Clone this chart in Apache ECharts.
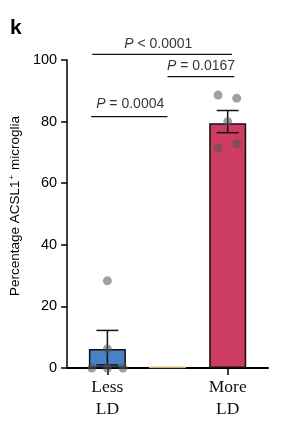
<!DOCTYPE html>
<html>
<head>
<meta charset="utf-8">
<script src="https://cdn.jsdelivr.net/npm/echarts@6/dist/echarts.min.js"></script>
<style>
  html, body { margin: 0; padding: 0; background: #fff; }
  #main { width: 282px; height: 423px; }
</style>
</head>
<body>
<div id="main"></div>
<script>
// groups sit at x = 0, 1, 2 (the middle one is an empty spacer)
var groupNames = ['Less\nLD', '', 'More\nLD'];
var barValues = [6.2, 0.6, 79.5];
var barColors = ['#4a80c4', '#f5b342', '#cd3d62'];
var errLow = [1.0, null, 76.4];
var errHigh = [12.2, null, 83.6];
// individual animals: [x offset, value]
var dotsLess = [[-0.26, 0], [0, 0], [0.26, 0], [0, 6.2], [0, 28.3]];
var dotsMore = [[-0.16, 88.6], [0.15, 87.6], [0, 80.0], [-0.16, 71.4], [0.15, 72.8]];
var yTicks = [0, 20, 40, 60, 80, 100];
// significance brackets: [x from, x to, y]
var brackets = [[-0.25, 2.07, 101.8], [1.0, 2.11, 94.6], [-0.27, 1.0, 81.6]];
var pLabels = [[0.847, 105.2, '<', '0.0001'], [1.556, 98.0, '=', '0.0167'], [0.379, 85.7, '=', '0.0004']];

var chart = echarts.init(document.getElementById('main'));

var barData = barValues.map(function (v, i) {
  return { value: [i, v], itemStyle: { color: barColors[i], borderColor: i === 1 ? '#e8e8e8' : '#111', borderWidth: i === 1 ? 0.5 : 1.5 } };
});

var dots = [];
dotsLess.forEach(function (d) { dots.push([0 + d[0], d[1]]); });
dotsMore.forEach(function (d) { dots.push([2 + d[0], d[1]]); });

var errData = [];
for (var i = 0; i < barValues.length; i++) {
  if (errLow[i] !== null) {
    errData.push([i, errLow[i], errHigh[i]]);
  }
}

var series = [
  {
    type: 'bar',
    data: barData,
    barWidth: 37,
    z: 2
  },
  {
    type: 'custom',
    z: 3,
    renderItem: function (params, api) {
      var x = api.value(0);
      var lo = api.coord([x, api.value(1)]);
      var hi = api.coord([x, api.value(2)]);
      var hw = 11;
      var st = { stroke: '#111', lineWidth: 1.5 };
      return {
        type: 'group',
        children: [
          { type: 'line', shape: { x1: lo[0], y1: lo[1], x2: hi[0], y2: hi[1] }, style: st },
          { type: 'line', shape: { x1: hi[0] - hw, y1: hi[1], x2: hi[0] + hw, y2: hi[1] }, style: st },
          { type: 'line', shape: { x1: lo[0] - hw, y1: lo[1], x2: lo[0] + hw, y2: lo[1] }, style: st }
        ]
      };
    },
    data: errData
  },
  {
    type: 'scatter',
    data: dots,
    symbolSize: 9,
    itemStyle: { color: 'rgba(85,85,85,0.69)' },
    clip: false,
    z: 4
  }
];

brackets.forEach(function (b) {
  series.push({
    type: 'line',
    data: [[b[0], b[2]], [b[1], b[2]]],
    symbol: 'none',
    clip: false,
    silent: true,
    lineStyle: { color: '#111', width: 1.2 },
    z: 5
  });
});

series.push({
  type: 'scatter',
  symbolSize: 0,
  clip: false,
  silent: true,
  data: pLabels.map(function (p) { return { value: [p[0], p[1]], sign: p[2], num: p[3] }; }),
  label: {
    show: true,
    position: 'inside',
    fontFamily: 'Liberation Sans, Arial, sans-serif',
    fontSize: 14,
    color: '#000',
    formatter: function (params) {
      return '{i|P} ' + params.data.sign + ' ' + params.data.num;
    },
    rich: {
      i: { fontStyle: 'italic', fontSize: 14, fontFamily: 'Liberation Sans, Arial, sans-serif', color: '#000' }
    }
  },
  z: 6
});

var option = {
  animation: false,
  backgroundColor: '#fff',
  title: {
    text: 'k',
    left: 5,
    top: 13,
    textStyle: { fontFamily: 'Liberation Sans, Arial, sans-serif', fontWeight: 'bold', fontSize: 21, color: '#000' }
  },
  grid: { left: 61, right: 14, top: 60, bottom: 55, containLabel: false },
  xAxis: {
    type: 'value',
    min: -0.67,
    max: 2.67,
    splitLine: { show: false },
    axisLine: { show: true, onZero: false, lineStyle: { color: '#000', width: 2 } },
    axisTick: { show: true, customValues: [0, 2], length: 7, lineStyle: { color: '#000', width: 1.5 } },
    axisLabel: {
      customValues: [0, 2],
      margin: 8,
      fontFamily: 'Liberation Serif, Times New Roman, serif',
      fontSize: 17.5,
      lineHeight: 22,
      color: '#111',
      formatter: function (v) { return groupNames[Math.round(v)]; }
    }
  },
  yAxis: {
    type: 'value',
    min: yTicks[0],
    max: yTicks[yTicks.length - 1],
    interval: 20,
    splitLine: { show: false },
    axisLine: { show: true, onZero: false, lineStyle: { color: '#000', width: 1.5 } },
    axisTick: { show: true, length: 6, lineStyle: { color: '#000', width: 1.5 } },
    axisLabel: {
      margin: 10,
      fontFamily: 'Liberation Sans, Arial, sans-serif',
      fontSize: 14.5,
      color: '#000'
    },
    name: '{a|Percentage ACSL1}{s|+}{a| microglia}',
    nameLocation: 'middle',
    nameGap: 40,
    nameTextStyle: {
      padding: [0, 0, 0, 16],
      rich: {
        a: { fontFamily: 'Liberation Sans, Arial, sans-serif', fontSize: 13.5, color: '#000' },
        s: { fontFamily: 'Liberation Sans, Arial, sans-serif', fontSize: 8, color: '#000', verticalAlign: 'top', padding: [0, 1, 6, 1] }
      }
    }
  },
  series: series
};

chart.setOption(option);
</script>
</body>
</html>
